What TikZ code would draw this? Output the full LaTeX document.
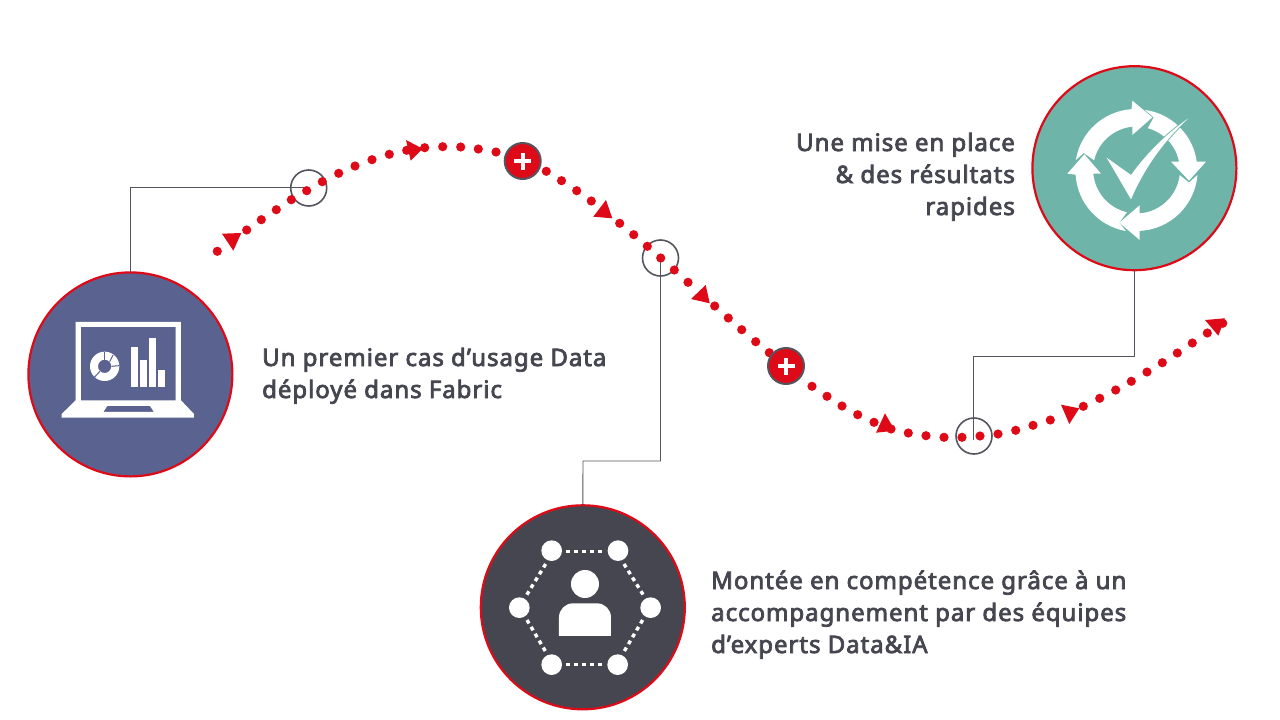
\documentclass[tikz,border=0pt]{standalone}
\usepackage{fontspec}
\setmainfont{Noto Sans}[FakeBold=3.2,LetterSpace=4]
\definecolor{redc}{HTML}{DE0A17}
\definecolor{inkc}{HTML}{464650}
\definecolor{linec}{HTML}{55555F}
\definecolor{bluec}{HTML}{5A6390}
\definecolor{tealc}{HTML}{6EB4A8}
\tikzset{
  bigdisc/.style={circle,draw=redc,line width=2.2pt,minimum size=204pt,inner sep=0pt,outer sep=0pt},
  ring/.style={circle,draw=linec,line width=1.6pt,minimum size=36pt,inner sep=0pt,outer sep=0pt},
  plusdisc/.style={circle,draw=linec,line width=2pt,fill=redc,minimum size=36pt,inner sep=0pt},
  conn/.style={draw=linec,line width=0.9pt},
  tri/.style={fill=redc},
  lab/.style={text=inkc,font=\fontsize{24}{32}\selectfont,inner sep=0pt,anchor=base west,align=left},
  netdash/.style={white,line width=3.4pt,dash pattern=on 4pt off 4pt},
}
\begin{document}
\begin{tikzpicture}[x=1pt,y=-1pt]
\useasboundingbox (0,0) rectangle (1280,720);
\fill[white] (0,0) rectangle (1280,720);
% discs and rings
\node[bigdisc,fill=bluec] (c1) at (130.4,374.4) {};
\node[bigdisc,fill=tealc] (c2) at (1134.4,168.2) {};
\node[bigdisc,fill=inkc] (c3) at (582.8,607.3) {};
\coordinate (e1) at (306,187.3);
\coordinate (k2) at (583,461);
\coordinate (k3) at (973.5,356);
\coordinate (e3) at (973.5,440);
\node[ring] (s2) at (660.5,258) {};
\node[ring] (s3) at (974,436) {};
\node[ring] (s1) at (308.7,188) {};
% connectors
\draw[conn] (c1.north) |- (e1);
\draw[conn] (s2.center) -- (s2.center |- k2) -- (k2) -- (c3.north);
\draw[conn] (c2.south) -- (c2.south |- k3) -- (k3) -- (e3);
% dots
\foreach \p in {(217.3,251.3),(246.7,230),(261.3,219.7),(276.3,209.7),(291.3,199.7),(306.7,190.7),(322.3,181.7),(338.7,173.3),(355,166),(372,159.7),(389.3,154.3),(406.7,150.3),(424.7,147.7),(442.7,146.7),(460.7,147),(478.3,149),(496,152),(546.3,171.3),(561.5,180.7),(576.7,190.7),(591.3,201),(619.7,223.3),(633.7,234.7),(647.3,246.3),(660.7,258),(674.3,270),(688,282.3),(714.7,306),(728.3,318),(741.7,329.7),(755.7,341.7),(769.3,352.7),(812,386.3),(827,396.3),(842,406),(857.7,414.7),(874,422.3),(891,429),(908.3,433),(926,435.7),(944,437.3),(962,437.3),(980,436),(998,434),(1015.7,430.3),(1033,425.3),(1050.3,420),(1083.3,406.3),(1099.7,398.3),(1115.7,390),(1131.3,381.3),(1147,372),(1162.3,362.7),(1177.3,353),(1192.3,343),(1207.3,333),(1222.7,323.3)}
  \fill[redc] \p circle[radius=4.6];
% arrowheads
\fill[tri] (222,233.7) -- (241.3,233) -- (233.3,250.7) -- cycle;
\fill[tri] (406,140) -- (422.7,148.7) -- (410.7,160.7) -- cycle;
\fill[tri] (606,200) -- (612.3,218.3) -- (593.3,216.7) -- cycle;
\fill[tri] (705.7,285) -- (709.7,303.3) -- (691,299) -- cycle;
\fill[tri] (885,413.3) -- (895,430.7) -- (876,432.7) -- cycle;
\fill[tri] (1061,404.7) -- (1079.3,408.3) -- (1069.3,424) -- cycle;
\fill[tri] (1205,320) -- (1225,318.3) -- (1218.3,335.7) -- cycle;
% plus
\node[plusdisc] (p1) at (522.7,161) {};
\node[plusdisc] (p2) at (786,366) {};
\foreach \n in {p1,p2}{
  \fill[white] ([shift={(-8.5,-2.2)}]\n.center) rectangle ([shift={(8.5,2.2)}]\n.center);
  \fill[white] ([shift={(-2.2,-8.5)}]\n.center) rectangle ([shift={(2.2,8.5)}]\n.center);
}
% laptop icon (zoom coordinates)
\begin{scope}[shift={(20,260)},x=0.3333pt,y=-0.3333pt]
  \fill[white,even odd rule] (167,186) -- (483,186) -- (483,421) -- (522,462) -- (522,473) -- (125,473) -- (125,462) -- (167,421) -- cycle
    (183,201) -- (467,201) -- (467,421) -- (183,421) -- cycle
    (262,438) -- (390,438) -- (402,456) -- (250,456) -- cycle;
  \fill[white] (333,261) rectangle (355,381);
  \fill[white] (360,300) rectangle (381,381);
  \fill[white] (387,234) rectangle (408,381);
  \fill[white] (414,330) rectangle (435,381);
  \fill[white,even odd rule] (254,319) circle[radius=44] (254,319) circle[radius=20];
  \draw[bluec,line width=1pt] (254,299) -- (254,275);
  \draw[bluec,line width=1pt] (269,305) -- (279,285);
  \draw[bluec,line width=1pt] (274,319) -- (298,317);
  \draw[bluec,line width=1pt] (240,334) -- (223,352);
\end{scope}
% cycle icon
\begin{scope}[shift={(1025,60)},x=0.3333pt,y=-0.3333pt]
  \fill[white] ([shift={(189.3:185)}]335,330) arc[start angle=189.3,end angle=266,radius=182.5] -- (322,122) -- (382,172) -- (322,225) -- (322,200) arc[start angle=264.3,end angle=193,radius=131] -- (176,279) -- cycle;
  \fill[white] ([shift={(277.8:182)}]335,330) arc[start angle=277.8,end angle=352,radius=182] -- (543,305) -- (492,362) -- (438,305) -- (462,305) arc[start angle=349,end angle=285,radius=129.5] -- (386,172) -- cycle;
  \fill[white] ([shift={(4.7:183)}]335,330) arc[start angle=4.7,end angle=87.2,radius=183] -- (344,540) -- (283,488) -- (344,436) -- (344,460) arc[start angle=86,end angle=6.6,radius=130] -- (492,368) -- cycle;
  \fill[white] ([shift={(100:186)}]335,330) arc[start angle=100,end angle=176.5,radius=183] -- (127,341) -- (178,283) -- (228,341) -- (205,341) arc[start angle=175,end angle=103,radius=130.5] -- (283,488) -- cycle;
  \draw[tealc,line width=1.8pt,line join=miter] (245,293) -- (318,345) .. controls (365,280) and (420,225) .. (490,175) .. controls (420,240) and (360,320) .. (318,418) -- cycle;
  \fill[white] (245,293) -- (318,345) .. controls (365,280) and (420,225) .. (490,175) .. controls (420,240) and (360,320) .. (318,418) -- cycle;
\end{scope}
% network icon
\begin{scope}[shift={(475,500)},x=0.3333pt,y=-0.3333pt]
  \coordinate (na) at (230,152); \coordinate (nb) at (429,152); \coordinate (nc) at (527,323);
  \coordinate (nd) at (428,494); \coordinate (ne) at (230,494); \coordinate (nf) at (133,323);
  \foreach \n in {na,nb,nc,nd,ne,nf} \fill[white] (\n) circle[radius=31];
  \draw[netdash] (273,154) -- (385,154);
  \draw[netdash] (273,493) -- (385,493);
  \draw[netdash] (212,192) -- (155,285);
  \draw[netdash] (447,192) -- (505,285);
  \draw[netdash] (156,360) -- (212,455);
  \draw[netdash] (503,360) -- (447,455);
  \fill[white] (330,252) circle[radius=42];
  \fill[white] (252,408) -- (252,352) arc[start angle=180,end angle=270,radius=42] -- (366,310) arc[start angle=270,end angle=360,radius=42] -- (408,408) -- cycle;
\end{scope}
% labels (a multi-line node's base is its last line)
\node[lab] (t1) at (262,398) {Un premier cas d’usage Data\\déployé dans Fabric};
\node[lab,anchor=base east,align=right] (t2) at (1015,215) {Une mise en place\\\& des résultats\\rapides};
\node[lab] (t3) at (711,653) {Montée en compétence grâce à un\\accompagnement par des équipes\\d’experts Data\&IA};
\end{tikzpicture}
\end{document}
